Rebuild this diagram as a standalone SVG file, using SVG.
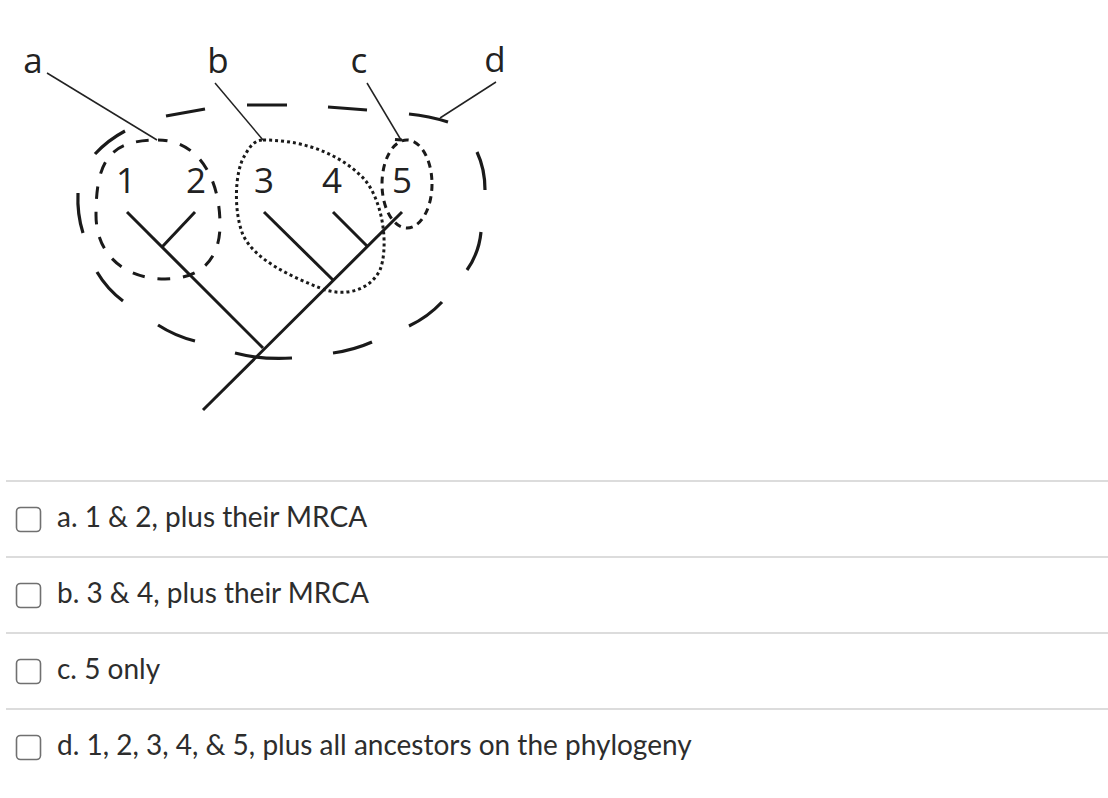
<svg xmlns="http://www.w3.org/2000/svg" width="1108" height="798" viewBox="0 0 1108 798">
<style>
  .lbl { font-family: "Open Sans", "DejaVu Sans", sans-serif; font-size: 35px; fill: #222; text-anchor: middle; }
  .tree { stroke: #1a1a1a; stroke-width: 3; fill: none; stroke-linecap: butt; }
  .ptr { stroke: #222; stroke-width: 1.5; fill: none; }
  .big { stroke: #1a1a1a; stroke-width: 3.2; fill: none; stroke-linecap: butt; }
  .dash12 { stroke: #1a1a1a; stroke-width: 3; fill: none; stroke-dasharray: 12.5 12.9; stroke-dashoffset: 3; }
  .dot34 { stroke: #1a1a1a; stroke-width: 3; fill: none; stroke-dasharray: 3 3; }
  .dash5 { stroke: #1a1a1a; stroke-width: 3; fill: none; stroke-dasharray: 7 5.3; }
  .sep { stroke: #dcdcdc; stroke-width: 2; }
  .box { fill: #fff; stroke: #707070; stroke-width: 1.6; }
  .opt { font-family: Lato, "Liberation Sans", sans-serif; font-size: 28px; fill: #2d2d2d; }
</style>

<g id="tree">
  <path class="tree" d="M203,410 L402,212"/>
  <path class="tree" d="M263,348 L127,212"/>
  <path class="tree" d="M162,247 L195,212"/>
  <path class="tree" d="M333,280 L264,212"/>
  <path class="tree" d="M367,246 L333,212"/>
</g>

<g id="tips">
  <text class="lbl" x="126" y="193">1</text>
  <text class="lbl" x="196" y="193">2</text>
  <text class="lbl" x="264" y="193">3</text>
  <text class="lbl" x="332" y="193">4</text>
  <text class="lbl" x="402" y="193">5</text>
</g>

<g id="group-d">
  <path class="big" d="M166,116 L205,109"/>
  <path class="big" d="M247,105 L287,105"/>
  <path class="big" d="M328,107 L367,110"/>
  <path class="big" d="M409,114 Q429,116 448,122"/>
  <path class="big" d="M477,152 Q485,169 485,190"/>
  <path class="big" d="M481,232 Q479,253 467,270"/>
  <path class="big" d="M442,302 Q428,317 409,326"/>
  <path class="big" d="M372,342 Q354,350 333,353"/>
  <path class="big" d="M292,358 Q262,360 235,353"/>
  <path class="big" d="M195,341 Q175,336 158,325"/>
  <path class="big" d="M123,301 Q107,289 97,272"/>
  <path class="big" d="M83,233 Q77,214 78,193"/>
  <path class="big" d="M95,154 Q108,140 125,131"/>
</g>

<g id="group-a">
  <path class="dash12" d="M158,140 C196,140 220,175 220,225 C220,262 198,279 165,279 C125,279 96,255 96,215 C96,160 110,140 158,140 Z"/>
</g>

<g id="group-b">
  <path class="dot34" d="M263,140 C310,140 345,158 365,180 C385,205 388,250 380,270 C370,290 345,298 320,288 C290,276 255,260 243,235 C233,210 235,170 245,155 C250,146 255,140 263,140 Z"/>
</g>

<g id="group-c">
  <ellipse class="dash5" cx="407" cy="184" rx="25" ry="44"/>
  <path class="tree" d="M395,139.5 L402,140"/>
</g>

<g id="pointers">
  <path class="ptr" d="M47,73 L157,140"/>
  <path class="ptr" d="M215,83 L263,140"/>
  <path class="ptr" d="M367,83 L401,140"/>
  <path class="ptr" d="M496,82 L440,118"/>
</g>

<g id="labels">
  <text class="lbl" x="33" y="73">a</text>
  <text class="lbl" x="218" y="73">b</text>
  <text class="lbl" x="359" y="73">c</text>
  <text class="lbl" x="495" y="72">d</text>
</g>

<g id="options">
  <line class="sep" x1="6" y1="481" x2="1108" y2="481"/>
  <line class="sep" x1="6" y1="557" x2="1108" y2="557"/>
  <line class="sep" x1="6" y1="633" x2="1108" y2="633"/>
  <line class="sep" x1="6" y1="709" x2="1108" y2="709"/>
  <g id="opt-a">
    <rect class="box" x="16.5" y="507.5" width="24" height="24" rx="4"/>
    <text class="opt" x="57" y="527">a. 1 &amp; 2, plus their MRCA</text>
  </g>
  <g id="opt-b">
    <rect class="box" x="16.5" y="583.5" width="24" height="24" rx="4"/>
    <text class="opt" x="57" y="603">b. 3 &amp; 4, plus their MRCA</text>
  </g>
  <g id="opt-c">
    <rect class="box" x="16.5" y="659.5" width="24" height="24" rx="4"/>
    <text class="opt" x="57" y="679">c. 5 only</text>
  </g>
  <g id="opt-d">
    <rect class="box" x="16.5" y="735.5" width="24" height="24" rx="4"/>
    <text class="opt" x="57" y="755">d. 1, 2, 3, 4, &amp; 5, plus all ancestors on the phylogeny</text>
  </g>
</g>
</svg>
